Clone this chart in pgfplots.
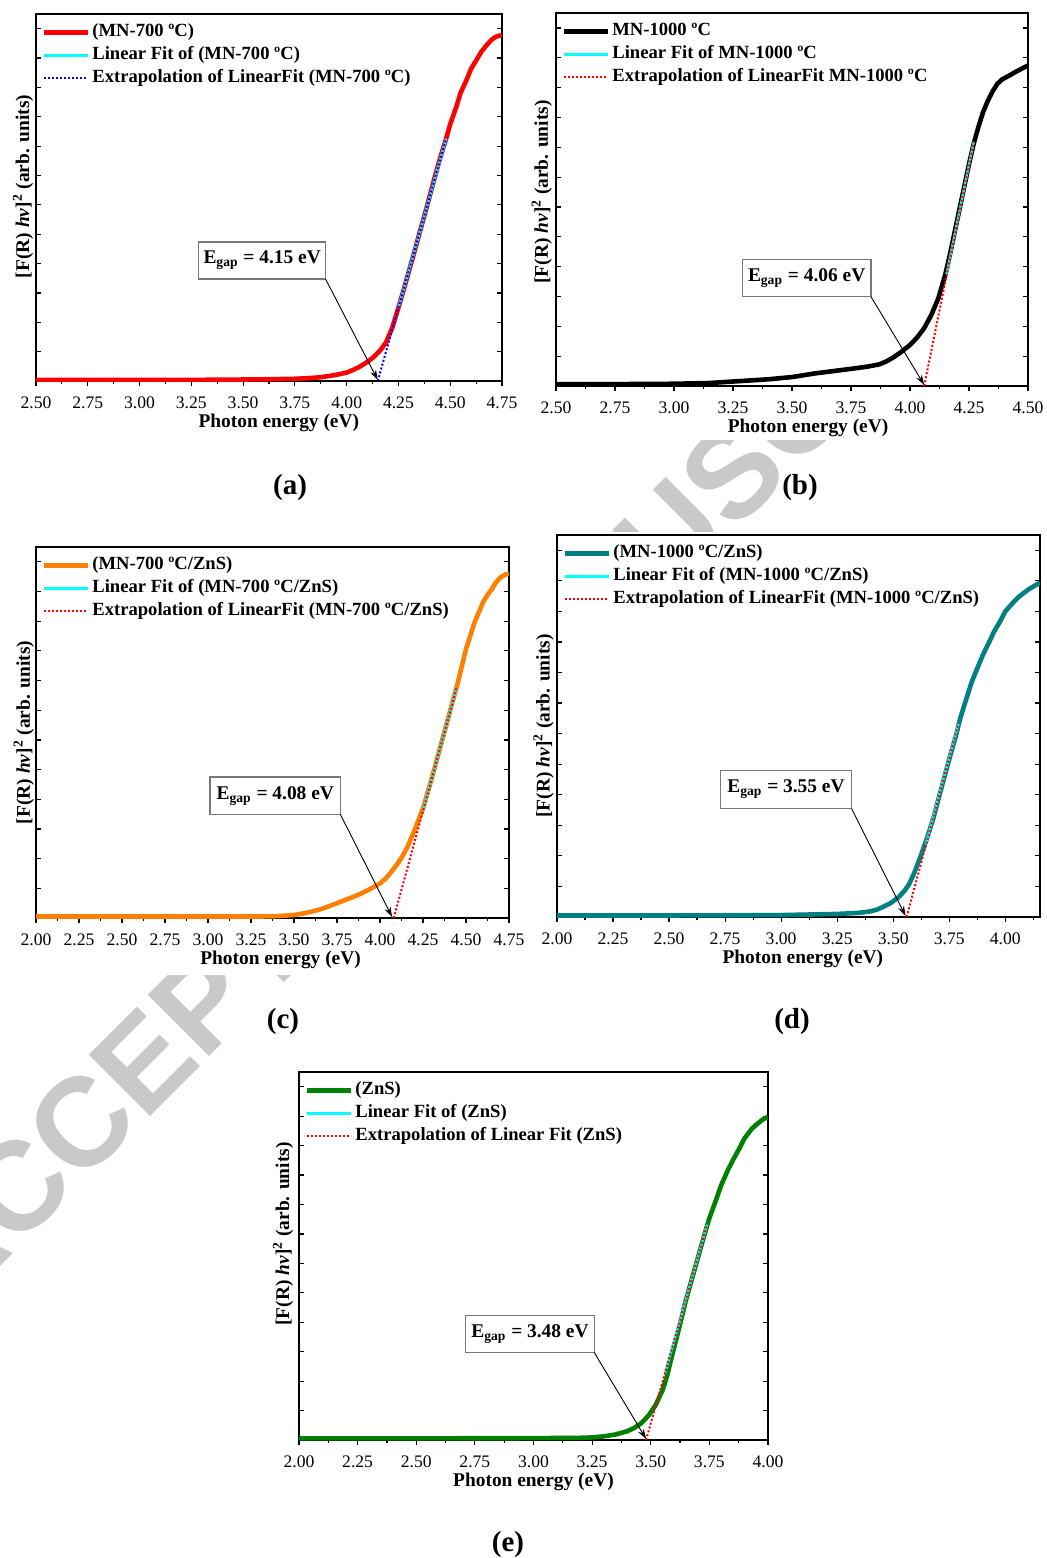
\documentclass[border=0pt]{standalone}
\usepackage{fontspec}
\setmainfont{Liberation Serif}
\newfontfamily\wmfont{Liberation Sans}
\usepackage{pgfplots}
\pgfplotsset{compat=1.18}
\usetikzlibrary{arrows.meta}

\definecolor{cOrange}{RGB}{255,128,0}
\definecolor{cTeal}{RGB}{0,128,128}
\definecolor{cGreen}{RGB}{0,128,0}
\definecolor{cCyan}{RGB}{0,255,255}
\definecolor{cRed}{RGB}{255,0,0}
\definecolor{cBlue}{RGB}{0,0,255}
\definecolor{wm}{RGB}{201,201,201}
\definecolor{boxgray}{RGB}{120,120,120}

\tikzset{
  gapbox/.style={draw=boxgray, line width=0.6pt, fill=white},
  gaptext/.style={font=\bfseries\fontsize{9.7}{11}\selectfont},
  gaparrow/.style={line width=0.45pt, -{Stealth[length=5pt,width=3.2pt]}},
}

\pgfplotsset{
  panel/.style={
    scale only axis, anchor=south west,
    axis line style={line width=0.9pt},
    ymin=0, ymax=1,
    xtick distance=0.25, minor x tick num=1,
    /pgf/number format/assume math mode=true,
    /pgf/number format/fixed, /pgf/number format/fixed zerofill, /pgf/number format/precision=2,
    tick label style={font=\fontsize{8.8}{10}\selectfont},
    xticklabel style={yshift=-1.7pt},
    xtick pos=bottom, xtick align=outside,
    ytick={0.08,0.16,0.24,0.32,0.40,0.48,0.56,0.64,0.72,0.80,0.88,0.96},
    yticklabels={}, ytick align=inside, ytick pos=both,
    major tick length=2.6pt, minor tick length=1.6pt,
    tick style={line width=0.6pt, black},
    xlabel={Photon energy (eV)},
    xlabel style={font=\bfseries\fontsize{9.7}{11}\selectfont, anchor=center, yshift=-21pt},
    ylabel={[F(R) \textit{hν}]\textsuperscript{2} (arb. units)},
    ylabel style={font=\bfseries\fontsize{9.7}{11}\selectfont, anchor=center},
    legend cell align=left,
    legend style={draw=none, fill=none, inner sep=0pt,
      at={(axis description cs:0,1)}, anchor=north west, xshift=2.5pt, yshift=-3.2pt,
      font=\bfseries\fontsize{9.3}{10}\selectfont,
      nodes={inner sep=1.2pt, text height=6.8pt, text depth=2.3pt},
      row sep=0pt,
      /tikz/every even column/.append style={column sep=0pt}},
    legend image code/.code={\draw[##1] (0pt,0pt) -- (22pt,0pt);},
  },
}

\begin{document}
\begin{tikzpicture}
\useasboundingbox (0,0) rectangle (523.5pt,-779pt);
% watermark
\node[rotate=45, text=wm, font=\wmfont\bfseries\fontsize{63}{63}\selectfont, inner sep=0pt] at (237.5pt,-365pt) {ACCEPTED MANUSCRIPT};
% white panel backgrounds
\fill[white] (0,0) rectangle (260pt,-220pt);
\fill[white] (257.5pt,0) rectangle (523.5pt,-220pt);
\fill[white] (0,-270pt) rectangle (265pt,-487.5pt);
\fill[white] (262.5pt,-266pt) rectangle (523.5pt,-487.5pt);
\fill[white] (120pt,-530pt) rectangle (395pt,-750pt);

% ---------- (a) ----------
\begin{axis}[panel, at={(18pt,-190.5pt)}, width=233pt, height=183.5pt,
  xmin=2.5, xmax=4.75,
  ylabel style={at={(axis description cs:-0.028,0.53)}},
  xlabel style={at={(axis description cs:0.521,0)}}]
\addplot[cRed, line width=2.3pt] coordinates {
(2.50,0.003) (2.75,0.003) (3.00,0.003) (3.25,0.003) (3.50,0.004) (3.65,0.005)
(3.75,0.006) (3.82,0.008) (3.87,0.010) (3.92,0.014) (3.96,0.018) (4.00,0.023)
(4.03,0.030) (4.06,0.038) (4.10,0.052) (4.13,0.065) (4.16,0.082) (4.19,0.105)
(4.22,0.145) (4.25,0.200) (4.28,0.258) (4.30,0.298) (4.33,0.358) (4.35,0.400)
(4.38,0.460) (4.40,0.502) (4.43,0.565) (4.45,0.605) (4.48,0.660) (4.50,0.700)
(4.53,0.748) (4.55,0.785) (4.58,0.822) (4.60,0.850) (4.63,0.878) (4.65,0.897)
(4.68,0.918) (4.70,0.930) (4.72,0.938) (4.75,0.943)};
\addlegendentry{(MN-700 ºC)}
\addplot[cCyan, line width=1.2pt] coordinates {(4.25,0.20) (4.48,0.66)};
\addlegendentry{Linear Fit of (MN-700 ºC)}
\addplot[cBlue, densely dotted, line width=1pt] coordinates {(4.15,0) (4.48,0.66)};
\addlegendentry{Extrapolation of LinearFit (MN-700 ºC)}
\draw[gapbox] (axis cs:3.286,0.278) rectangle (axis cs:3.898,0.379);
\node[gaptext] at (axis cs:3.592,0.3285) {E\textsubscript{gap} = 4.15 eV};
\draw[gaparrow] (axis cs:3.898,0.278) -- (axis cs:4.15,0.003);
\end{axis}

% ---------- (b) ----------
\begin{axis}[panel, at={(278pt,-193pt)}, width=236pt, height=186.5pt,
  xmin=2.5, xmax=4.5,
  ylabel style={at={(axis description cs:-0.03,0.52)}},
  xlabel style={at={(axis description cs:0.534,0)}}]
\addplot[black, line width=2.3pt] coordinates {
(2.50,0.005) (2.75,0.005) (3.00,0.006) (3.15,0.008) (3.25,0.012) (3.40,0.018)
(3.50,0.024) (3.60,0.034) (3.70,0.042) (3.75,0.046) (3.82,0.052) (3.87,0.058)
(3.90,0.066) (3.93,0.077) (3.96,0.090) (4.00,0.110) (4.03,0.130) (4.06,0.155)
(4.09,0.190) (4.12,0.235) (4.15,0.300) (4.17,0.355) (4.19,0.415) (4.21,0.475)
(4.23,0.535) (4.25,0.595) (4.27,0.650) (4.29,0.695) (4.31,0.735) (4.33,0.765)
(4.35,0.790) (4.37,0.810) (4.39,0.822) (4.42,0.832) (4.45,0.843) (4.48,0.853)
(4.50,0.859)};
\addlegendentry{MN-1000 ºC}
\addplot[cCyan, line width=1.2pt] coordinates {(4.155,0.30) (4.27,0.655)};
\addlegendentry{Linear Fit of MN-1000 ºC}
\addplot[cRed, densely dotted, line width=1pt] coordinates {(4.06,0) (4.27,0.655)};
\addlegendentry{Extrapolation of LinearFit MN-1000 ºC}
\draw[gapbox] (axis cs:3.289,0.239) rectangle (axis cs:3.835,0.340);
\node[gaptext] at (axis cs:3.562,0.2895) {E\textsubscript{gap} = 4.06 eV};
\draw[gaparrow] (axis cs:3.835,0.239) -- (axis cs:4.06,0.003);
\end{axis}

% ---------- (c) ----------
\begin{axis}[panel, at={(18pt,-459pt)}, width=236.5pt, height=185.5pt,
  xmin=2.0, xmax=4.75,
  ylabel style={at={(axis description cs:-0.026,0.5)}},
  xlabel style={at={(axis description cs:0.517,0)}}]
\addplot[cOrange, line width=2.3pt] coordinates {
(2.00,0.004) (2.50,0.004) (3.00,0.004) (3.30,0.004) (3.40,0.005) (3.50,0.008)
(3.55,0.012) (3.60,0.017) (3.65,0.023) (3.70,0.031) (3.75,0.040) (3.80,0.049)
(3.85,0.058) (3.90,0.068) (3.95,0.080) (4.00,0.093) (4.03,0.105) (4.06,0.121)
(4.10,0.145) (4.13,0.166) (4.16,0.192) (4.20,0.236) (4.25,0.295) (4.30,0.375)
(4.35,0.460) (4.40,0.545) (4.45,0.630) (4.50,0.725) (4.55,0.797) (4.60,0.852)
(4.63,0.874) (4.65,0.886) (4.67,0.902) (4.70,0.918) (4.73,0.926) (4.75,0.928)};
\addlegendentry{(MN-700 ºC/ZnS)}
\addplot[cCyan, line width=1.2pt] coordinates {(4.25,0.29) (4.445,0.62)};
\addlegendentry{Linear Fit of (MN-700 ºC/ZnS)}
\addplot[cRed, densely dotted, line width=1pt] coordinates {(4.08,0) (4.445,0.62)};
\addlegendentry{Extrapolation of LinearFit (MN-700 ºC/ZnS)}
\draw[gapbox] (axis cs:3.012,0.279) rectangle (axis cs:3.770,0.380);
\node[gaptext] at (axis cs:3.391,0.3295) {E\textsubscript{gap} = 4.08 eV};
\draw[gaparrow] (axis cs:3.770,0.279) -- (axis cs:4.07,0.003);
\end{axis}

% ---------- (d) ----------
\begin{axis}[panel, at={(278.5pt,-458.5pt)}, width=241.5pt, height=191pt,
  xmin=2.0, xmax=4.155,
  ylabel style={at={(axis description cs:-0.028,0.5)}},
  xlabel style={at={(axis description cs:0.509,0)}}]
\addplot[cTeal, line width=2.3pt] coordinates {
(2.00,0.004) (2.50,0.004) (3.00,0.005) (3.25,0.008) (3.35,0.011) (3.40,0.015)
(3.43,0.020) (3.46,0.028) (3.49,0.037) (3.52,0.050) (3.55,0.068) (3.57,0.085)
(3.59,0.110) (3.62,0.155) (3.65,0.205) (3.68,0.260) (3.70,0.305) (3.73,0.370)
(3.75,0.413) (3.78,0.475) (3.80,0.522) (3.83,0.578) (3.85,0.615) (3.88,0.658)
(3.90,0.686) (3.93,0.722) (3.95,0.747) (3.98,0.777) (4.00,0.800) (4.03,0.820)
(4.06,0.838) (4.10,0.856) (4.13,0.867) (4.155,0.875)};
\addlegendentry{(MN-1000 ºC/ZnS)}
\addplot[cCyan, line width=1.2pt] coordinates {(3.645,0.19) (3.79,0.505)};
\addlegendentry{Linear Fit of (MN-1000 ºC/ZnS)}
\addplot[cRed, densely dotted, line width=1pt] coordinates {(3.56,0) (3.79,0.505)};
\addlegendentry{Extrapolation of LinearFit (MN-1000 ºC/ZnS)}
\draw[gapbox] (axis cs:2.729,0.284) rectangle (axis cs:3.314,0.384);
\node[gaptext] at (axis cs:3.0215,0.334) {E\textsubscript{gap} = 3.55 eV};
\draw[gaparrow] (axis cs:3.314,0.284) -- (axis cs:3.555,0.003);
\end{axis}

% ---------- (e) ----------
\begin{axis}[panel, at={(149.5pt,-720pt)}, width=234.5pt, height=184pt,
  xmin=2.0, xmax=4.0,
  ylabel style={at={(axis description cs:-0.034,0.56)}},
  xlabel style={at={(axis description cs:0.5,0)}}]
\addplot[cGreen, line width=2.3pt] coordinates {
(2.00,0.0045) (2.50,0.0045) (3.00,0.005) (3.20,0.006) (3.25,0.007) (3.30,0.010)
(3.35,0.015) (3.40,0.024) (3.43,0.033) (3.46,0.046) (3.49,0.066) (3.52,0.094)
(3.55,0.135) (3.57,0.175) (3.59,0.228) (3.60,0.252) (3.62,0.302) (3.65,0.380)
(3.68,0.448) (3.70,0.493) (3.73,0.560) (3.75,0.603) (3.78,0.655) (3.80,0.692)
(3.83,0.735) (3.85,0.760) (3.88,0.795) (3.90,0.820) (3.93,0.845) (3.95,0.857)
(3.98,0.872) (4.00,0.878)};
\addlegendentry{(ZnS)}
\addplot[cCyan, line width=1.2pt] coordinates {(3.56,0.18) (3.74,0.585)};
\addlegendentry{Linear Fit of (ZnS)}
\addplot[cRed, densely dotted, line width=1pt] coordinates {(3.48,0) (3.74,0.585)};
\addlegendentry{Extrapolation of Linear Fit (ZnS)}
\draw[gapbox] (axis cs:2.711,0.238) rectangle (axis cs:3.259,0.338);
\node[gaptext] at (axis cs:2.985,0.288) {E\textsubscript{gap} = 3.48 eV};
\draw[gaparrow] (axis cs:3.259,0.238) -- (axis cs:3.48,0.003);
\end{axis}

% panel labels
\node[font=\bfseries\fontsize{14.5}{16}\selectfont] at (145pt,-244pt) {(a)};
\node[font=\bfseries\fontsize{14.5}{16}\selectfont] at (400pt,-244pt) {(b)};
\node[font=\bfseries\fontsize{14.5}{16}\selectfont] at (141.5pt,-511pt) {(c)};
\node[font=\bfseries\fontsize{14.5}{16}\selectfont] at (396pt,-511pt) {(d)};
\node[font=\bfseries\fontsize{14.5}{16}\selectfont] at (254pt,-772.5pt) {(e)};
\end{tikzpicture}
\end{document}
